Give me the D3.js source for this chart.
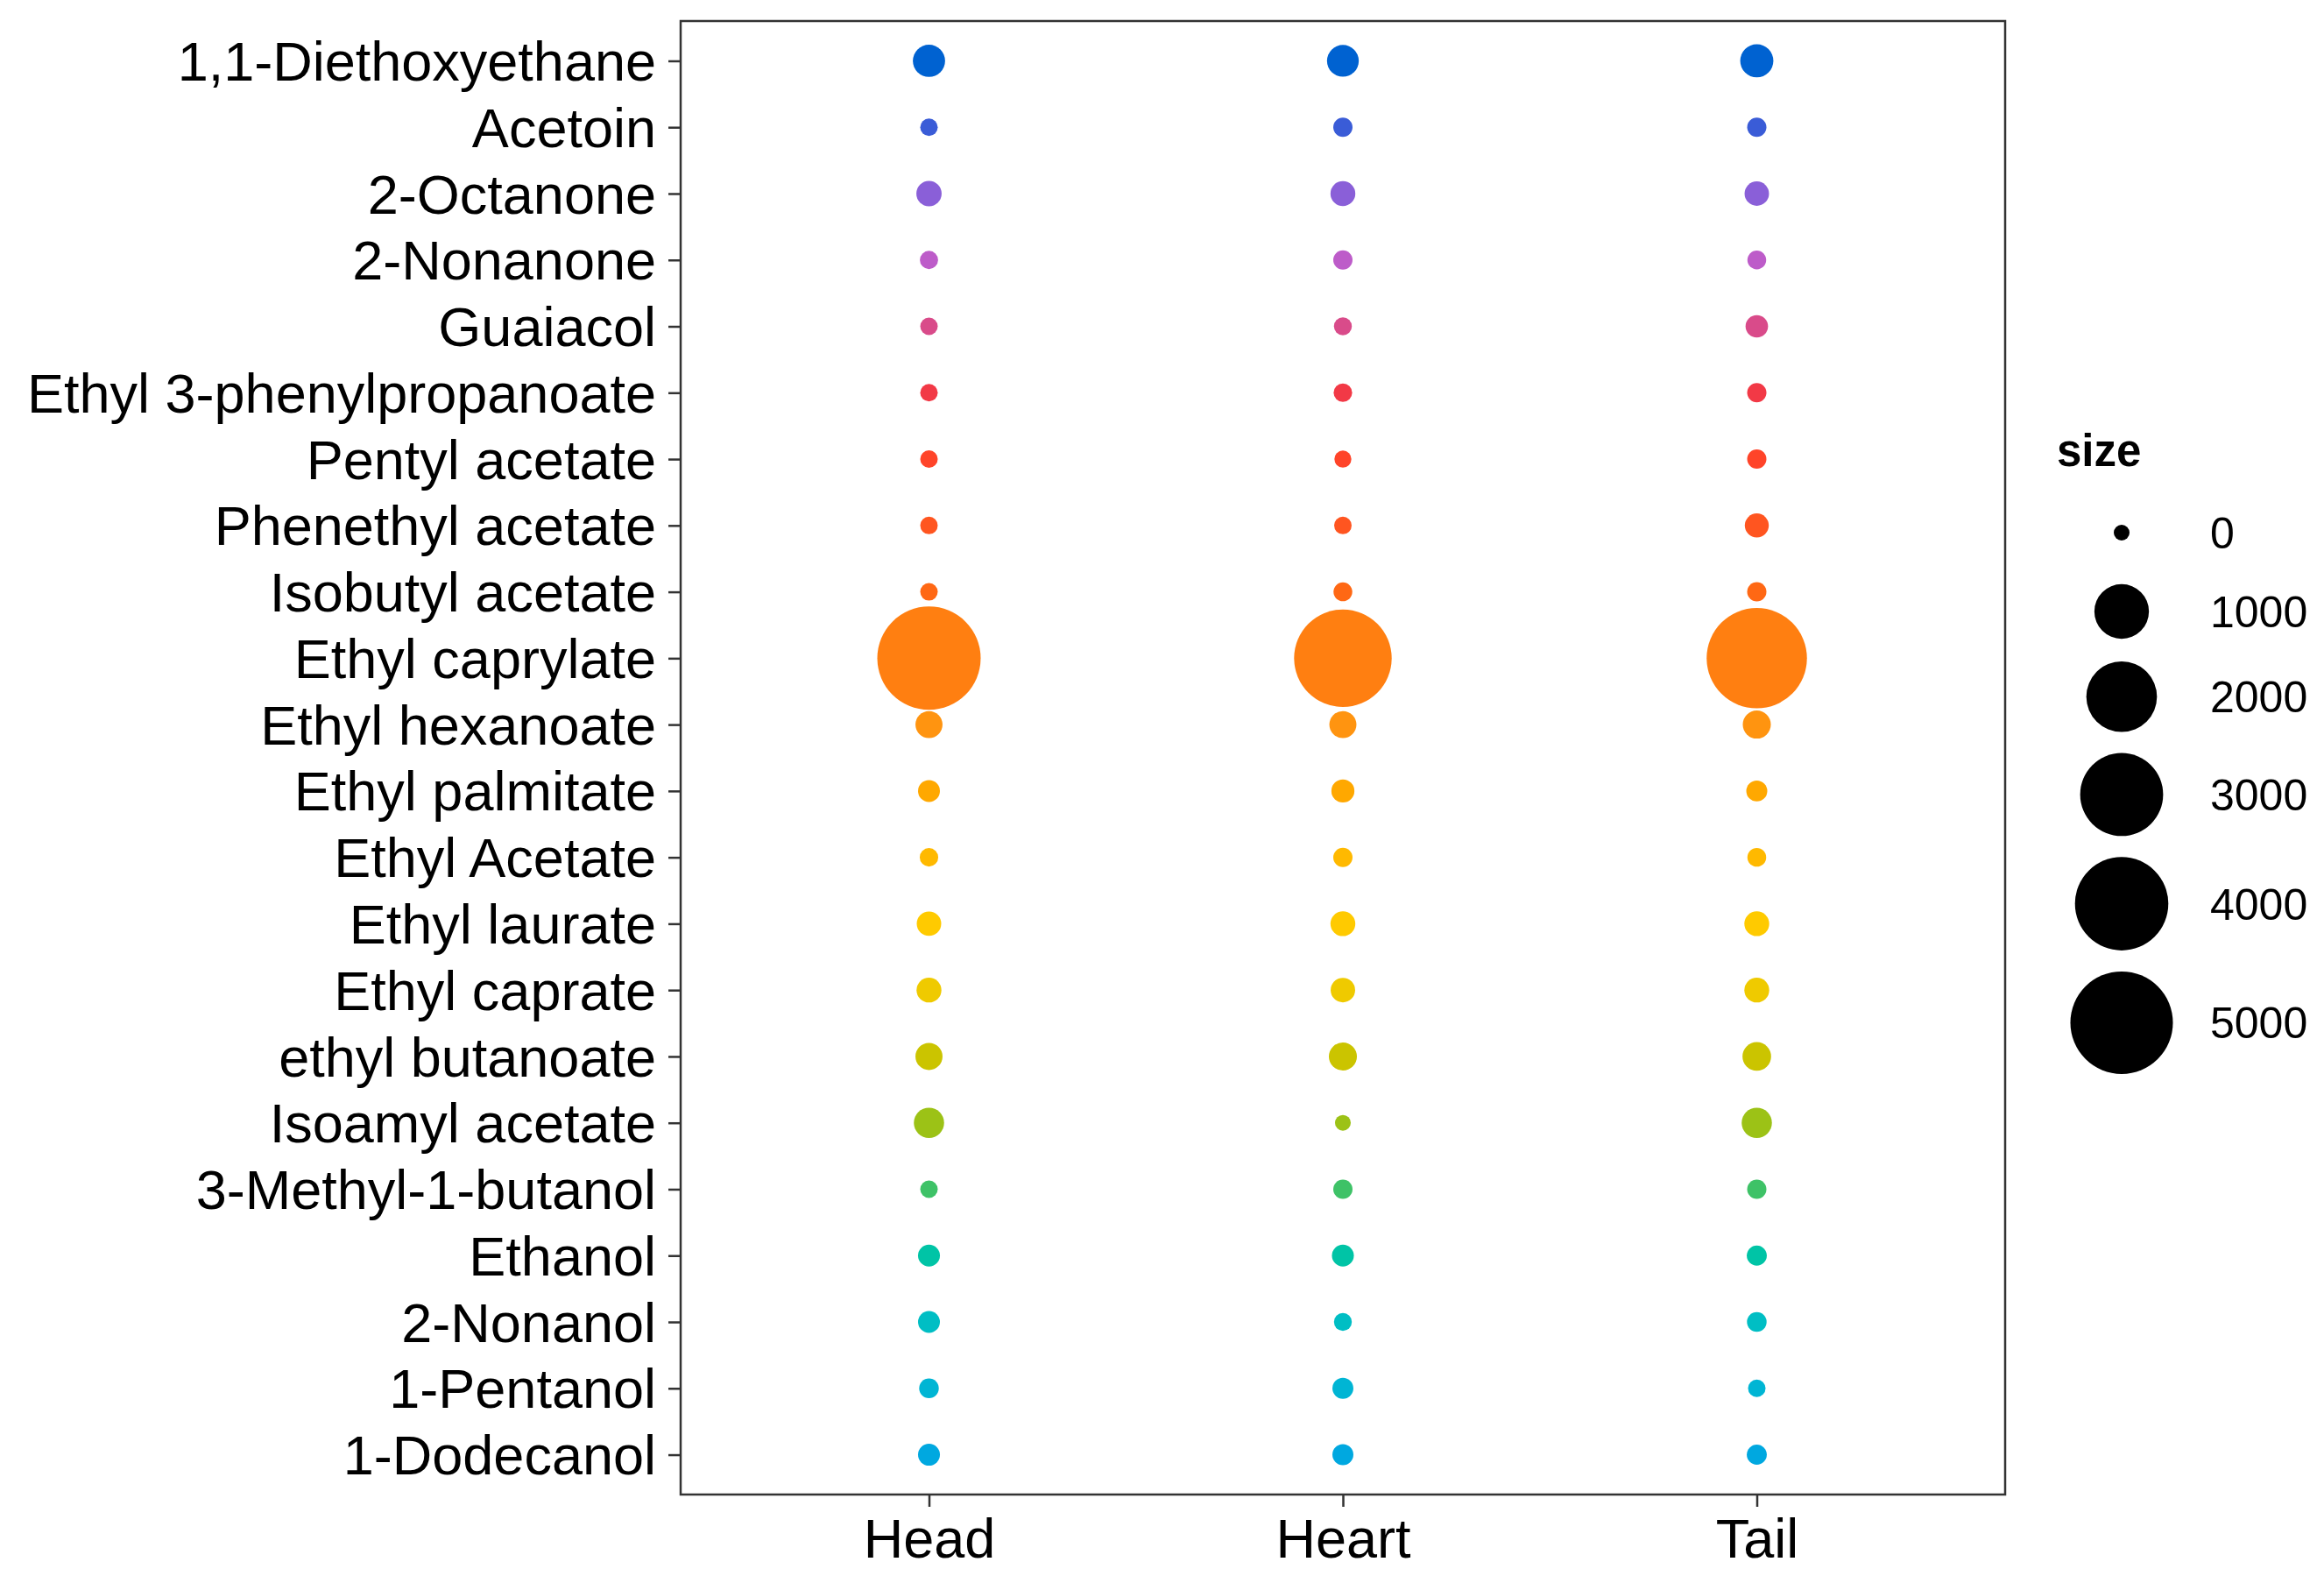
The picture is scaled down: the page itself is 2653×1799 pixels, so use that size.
<!DOCTYPE html>
<html>
<head>
<meta charset="utf-8">
<script src="https://cdn.jsdelivr.net/npm/d3@7"></script>
<style>
  html, body { margin: 0; padding: 0; background: #ffffff; }
  svg { display: block; }
</style>
</head>
<body>
<svg id="chart" width="2653" height="1799"></svg>
<script>
// ---------------- data ----------------
const compounds = [
  "1,1-Diethoxyethane", "Acetoin", "2-Octanone", "2-Nonanone", "Guaiacol",
  "Ethyl 3-phenylpropanoate", "Pentyl acetate", "Phenethyl acetate", "Isobutyl acetate",
  "Ethyl caprylate", "Ethyl hexanoate", "Ethyl palmitate", "Ethyl Acetate",
  "Ethyl laurate", "Ethyl caprate", "ethyl butanoate", "Isoamyl acetate",
  "3-Methyl-1-butanol", "Ethanol", "2-Nonanol", "1-Pentanol", "1-Dodecanol"
];
const fractions = ["Head", "Heart", "Tail"];

const headValues  = [180, 2, 60, 4, 2, 2, 2, 2, 2, 5100, 85, 25, 5, 50, 55, 85, 140, 2, 25, 25, 10, 25];
const heartValues = [170, 8, 55, 8, 3, 5, 1, 2, 6, 4450, 85, 35, 8, 55, 50, 100, 0, 8, 25, 3, 18, 18];
const tailValues  = [200, 8, 50, 6, 30, 8, 8, 45, 8, 4750, 100, 18, 6, 55, 55, 110, 140, 8, 12, 10, 2, 12];

const compoundColors = [
  "#0062d1", "#3a5cd7", "#8a5fd8", "#bd5cc9", "#d94b8a", "#f23946", "#ff4429",
  "#ff5520", "#ff6814", "#ff7f11", "#ff9410", "#ffa800", "#ffb900", "#ffca00",
  "#efca00", "#cbc400", "#9cc216", "#3ec267", "#00c4a6", "#00bec4", "#00b5d4", "#00a8e0"
];

const legendBreaks = [0, 1000, 2000, 3000, 4000, 5000];
const legendTitle = "size";

// ---------------- layout ----------------
const svg = d3.select("#chart");
const panel = { left: 777, right: 2289, top: 24, bottom: 1706 };
const FONT = "'Liberation Sans', Arial, Helvetica, sans-serif";
const axisColor = "#333333";

const seriesByFraction = { Head: headValues, Heart: heartValues, Tail: tailValues };
const points = [];
fractions.forEach(f => {
  seriesByFraction[f].forEach((v, i) => {
    points.push({ fraction: f, compound: compounds[i], value: v, color: compoundColors[i] });
  });
});

const x = d3.scalePoint().domain(fractions).range([panel.left, panel.right]).padding(0.6);
const y = d3.scalePoint().domain(compounds).range([panel.top, panel.bottom]).padding(0.6);
const maxVal = d3.max(points, d => d.value);
const r = d3.scaleSqrt().domain([0, maxVal]).range([9, 59]);

// panel background
svg.append("rect")
  .attr("x", panel.left).attr("y", panel.top)
  .attr("width", panel.right - panel.left).attr("height", panel.bottom - panel.top)
  .attr("fill", "#ffffff");

// points
svg.append("g").selectAll("circle")
  .data(points)
  .join("circle")
  .attr("cx", d => x(d.fraction))
  .attr("cy", d => y(d.compound))
  .attr("r", d => r(d.value))
  .attr("fill", d => d.color);

// panel border
svg.append("rect")
  .attr("x", panel.left).attr("y", panel.top)
  .attr("width", panel.right - panel.left).attr("height", panel.bottom - panel.top)
  .attr("fill", "none").attr("stroke", axisColor).attr("stroke-width", 2.5);

// y axis
const yAxis = svg.append("g")
  .attr("transform", `translate(${panel.left},0)`)
  .call(d3.axisLeft(y).tickSize(14).tickPadding(14));
yAxis.select(".domain").remove();
yAxis.selectAll(".tick line").attr("stroke", axisColor).attr("stroke-width", 2.5);
yAxis.selectAll(".tick text")
  .attr("font-family", FONT).attr("font-size", 63).attr("fill", "#000")
  .attr("dy", "0.35em");

// x axis
const xAxis = svg.append("g")
  .attr("transform", `translate(0,${panel.bottom})`)
  .call(d3.axisBottom(x).tickSize(14).tickPadding(13));
xAxis.select(".domain").remove();
xAxis.selectAll(".tick line").attr("stroke", axisColor).attr("stroke-width", 2.5);
xAxis.selectAll(".tick text")
  .attr("font-family", FONT).attr("font-size", 63).attr("fill", "#000")
  .attr("dy", "0.71em");

// legend
const legend = svg.append("g");
legend.append("text")
  .attr("x", 2348).attr("y", 532)
  .attr("font-family", FONT).attr("font-size", 51).attr("font-weight", "bold")
  .attr("fill", "#000")
  .text(legendTitle);

const keyHeights = legendBreaks.map(b => Math.max(90, 2 * r(b) + 24));
let cy = 608;
const legendItems = legendBreaks.map((b, i) => {
  if (i > 0) cy += (keyHeights[i - 1] + keyHeights[i]) / 2;
  return { value: b, cy: cy };
});
const legendCx = 2422;
legend.selectAll("circle")
  .data(legendItems)
  .join("circle")
  .attr("cx", legendCx)
  .attr("cy", d => d.cy)
  .attr("r", d => r(d.value))
  .attr("fill", "#000");
legend.selectAll("text.lbl")
  .data(legendItems)
  .join("text")
  .attr("class", "lbl")
  .attr("x", 2523)
  .attr("y", d => d.cy)
  .attr("dy", "0.36em")
  .attr("font-family", FONT).attr("font-size", 50).attr("fill", "#000")
  .text(d => d.value);
</script>
</body>
</html>
